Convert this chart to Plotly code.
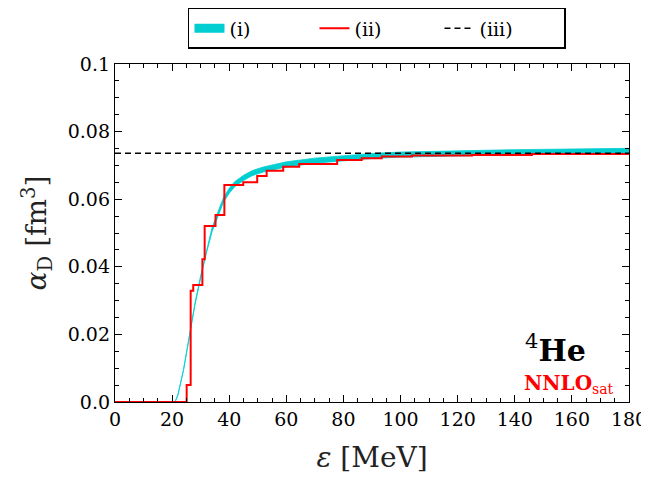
import plotly.graph_objects as go

# (i) band: centre and half-width
band_E = [21, 22, 24, 26, 27, 28, 30, 32, 34, 36, 38, 40, 42, 45, 48, 52, 56, 60, 70, 80, 90, 100, 120, 140, 160, 180]
band_mid = [0.0, 0.002, 0.0095, 0.019, 0.0245, 0.029, 0.037, 0.0445, 0.051, 0.0555, 0.0598, 0.0625, 0.0645,
            0.0663, 0.0677, 0.0688, 0.0696, 0.0703, 0.0714, 0.0722, 0.0728, 0.0732, 0.0736, 0.0739, 0.0741, 0.0743]
band_half = [0.0001, 0.0001, 0.00015, 0.0002, 0.00025, 0.0003, 0.0004, 0.0005, 0.0006, 0.00065, 0.0007, 0.00075,
             0.00075, 0.00075, 0.00075, 0.00075, 0.00075, 0.00075, 0.00075, 0.00075, 0.00075, 0.00075, 0.00075,
             0.00075, 0.00075, 0.00075]

# (ii) step curve
step_E = [0, 25.1, 26.5, 27.4, 30.6, 31.4, 35.2, 38.3, 44.9, 49.8, 53.1, 58.9, 64.5, 77.8, 86.4, 93.4, 104,
          125, 146, 180]
step_V = [0.0, 0.005, 0.0329, 0.0346, 0.0422, 0.0521, 0.0553, 0.0642, 0.0650, 0.0669, 0.0684, 0.0696, 0.0704,
          0.0716, 0.0721, 0.0726, 0.0729, 0.0731, 0.0734, 0.0735]

# (iii) constant
const_E = [0, 180]
const_V = [0.0736, 0.0736]

y_tickvals = [0.0, 0.02, 0.04, 0.06, 0.08, 0.1]
y_ticktext = ["0.0", "0.02", "0.04", "0.06", "0.08", "0.1"]
x_tickvals = [0, 20, 40, 60, 80, 100, 120, 140, 160, 180]

CYAN = "#00CED1"
FONT = "DejaVu Serif"

lower = [m - h for m, h in zip(band_mid, band_half)]
upper = [m + h for m, h in zip(band_mid, band_half)]

fig = go.Figure()
fig.add_trace(go.Scatter(x=band_E, y=lower, mode="lines", line=dict(color=CYAN, width=0.8),
                         showlegend=False, hoverinfo="skip"))
fig.add_trace(go.Scatter(x=band_E, y=upper, mode="lines", line=dict(color=CYAN, width=0.8),
                         fill="tonexty", fillcolor=CYAN, showlegend=False, hoverinfo="skip"))
fig.add_trace(go.Scatter(x=[None], y=[None], mode="lines", line=dict(color=CYAN, width=9), name="(i)"))
fig.add_trace(go.Scatter(x=step_E, y=step_V, mode="lines", line=dict(color="#FF0000", width=2, shape="hv"),
                         name="(ii)"))
fig.add_trace(go.Scatter(x=const_E, y=const_V, mode="lines",
                         line=dict(color="black", width=1.6, dash="6px,4px"), name="(iii)"))

axis_common = dict(
    showgrid=False, zeroline=False, showline=True, linecolor="black", linewidth=1.3,
    mirror="allticks", ticks="inside", ticklen=7, tickwidth=1.2, tickcolor="black",
    tickfont=dict(family=FONT, size=19, color="black"), automargin=False,
    minor=dict(ticks="inside", ticklen=4, tickcolor="black", tickwidth=1),
)

fig.update_xaxes(range=[0, 180], tickvals=x_tickvals, minor_dtick=5,
                 title=dict(text="<i>ε</i> [MeV]", font=dict(family=FONT, size=28, color="#222"), standoff=18),
                 **axis_common)
fig.update_yaxes(range=[0, 0.1], tickvals=y_tickvals, ticktext=y_ticktext, minor_dtick=0.005,
                 title=dict(text="<i>α</i><sub>D</sub> [fm<sup>3</sup>]",
                            font=dict(family=FONT, size=28, color="#222"), standoff=12),
                 **axis_common)

fig.add_annotation(x=0.92, y=0.095, xref="paper", yref="paper", showarrow=False,
                   xanchor="right", yanchor="bottom",
                   text="<sup>4</sup><b>He</b>", font=dict(family=FONT, size=30, color="black"))
fig.add_annotation(x=0.975, y=0.008, xref="paper", yref="paper", showarrow=False,
                   xanchor="right", yanchor="bottom",
                   text="<b>NNLO</b><sub>sat</sub>", font=dict(family=FONT, size=20, color="#FF0000"))

fig.update_layout(
    width=641, height=471,
    margin=dict(l=107, r=20, t=56, b=77, autoexpand=False),
    paper_bgcolor="white", plot_bgcolor="white",
    legend=dict(orientation="h", x=0.142, y=1.166, xanchor="left", yanchor="top", traceorder="normal",
                bordercolor="black", borderwidth=1.5, entrywidth=80, entrywidthmode="pixels",
                font=dict(family=FONT, size=19, color="black")),
)

fig.write_html("out.html")
